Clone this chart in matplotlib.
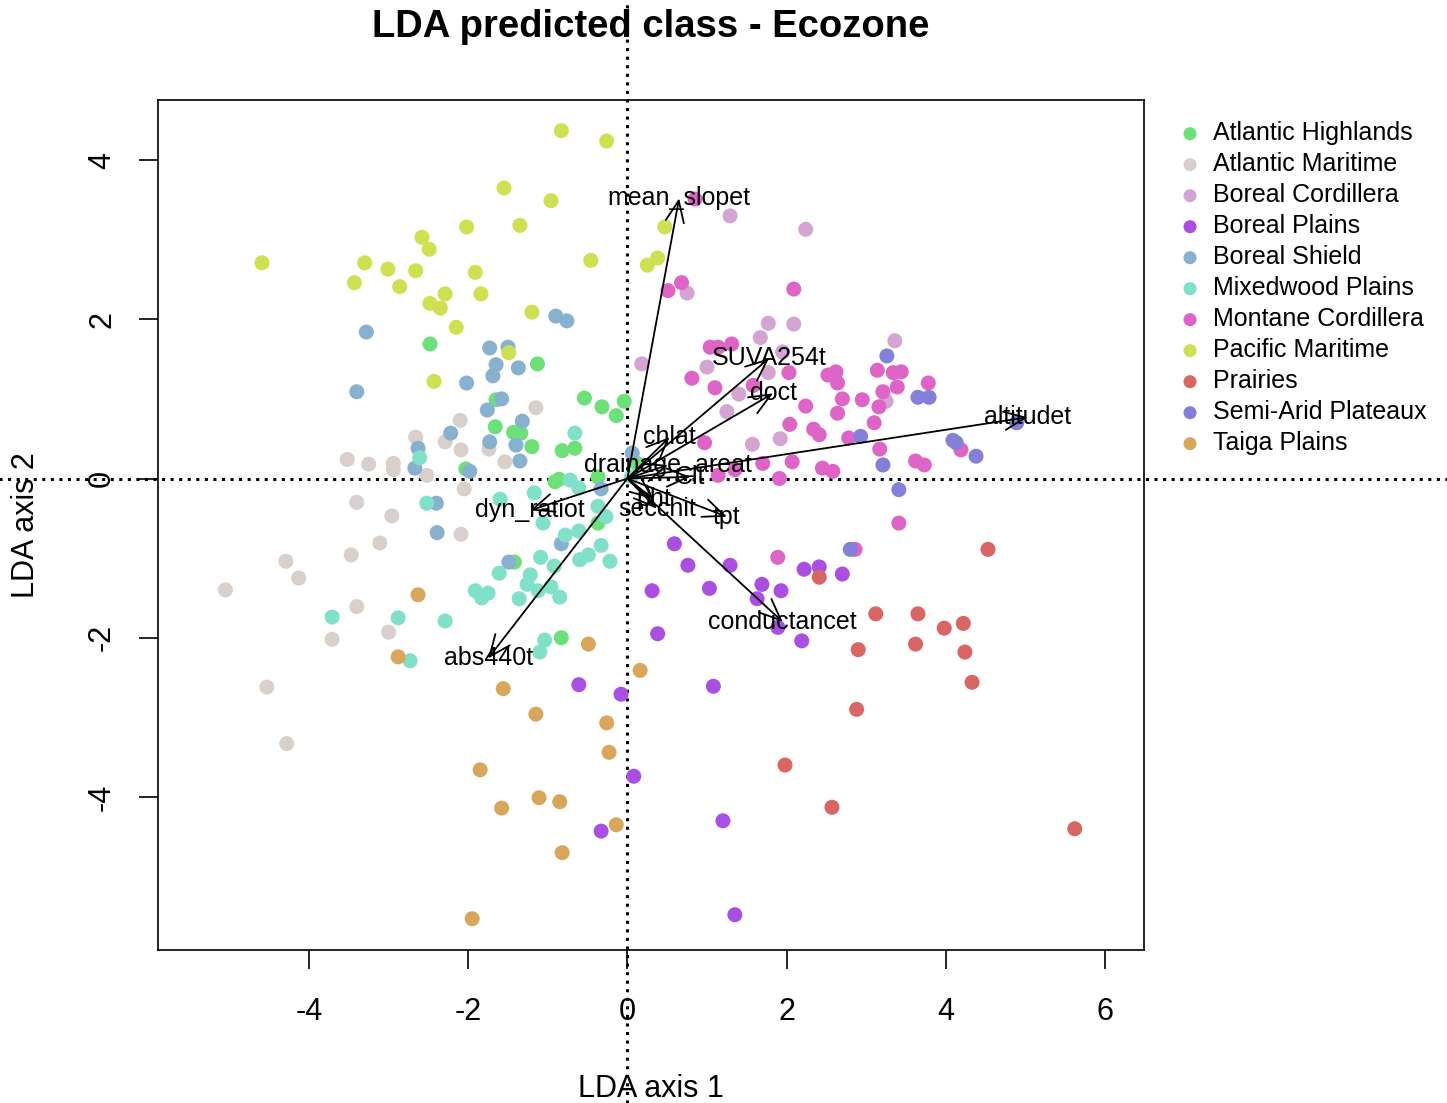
import numpy as np
import matplotlib
matplotlib.use('Agg')
import matplotlib.pyplot as plt

plt.rcParams['font.family'] = ['Liberation Sans', 'DejaVu Sans']
plt.rcParams['axes.unicode_minus'] = False

### LDA scores per ecozone (x = LD1, y = LD2)
ah_x = [-2.48, -1.13, -1.65, -0.54, -0.32, -0.14, -0.04, -1.66, -1.43, -1.34, -1.20,
        -0.82, -0.66, -2.03, -0.91, -0.86, -0.37, -1.42, -0.83, 0.12, -0.37]
ah_y = [1.69, 1.44, 0.99, 1.01, 0.90, 0.79, 0.97, 0.65, 0.58, 0.57, 0.40,
        0.35, 0.38, 0.12, -0.04, -0.01, -0.56, -1.05, -2.00, 0.19, 0.02]

am_x = [-1.15, -2.10, -2.66, -2.29, -2.09, -1.74, -1.54, -3.52, -3.25, -2.94, -2.94, -2.52, -3.40,
        -2.96, -2.05, -2.09, -3.11, -3.47, -4.29, -4.13, -5.05, -3.40, -3.71, -3.00, -4.53, -4.28]
am_y = [0.89, 0.73, 0.52, 0.46, 0.36, 0.37, 0.21, 0.24, 0.18, 0.19, 0.11, 0.04, -0.30,
        -0.47, -0.13, -0.70, -0.81, -0.96, -1.04, -1.25, -1.40, -1.61, -2.02, -1.93, -2.62, -3.33]

bc_x = [1.29, 2.24, 0.75, 1.77, 2.09, 1.67, 3.36, 1.95, 0.18, 1.00, 1.77, 1.40, 1.25, 1.57, 1.92, 3.25]
bc_y = [3.30, 3.13, 2.33, 1.95, 1.94, 1.77, 1.73, 1.59, 1.44, 1.40, 1.33, 1.06, 0.84, 0.43, 0.50, 0.97]

bp_x = [0.59, 0.76, 1.29, 0.31, 1.03, 1.69, 1.93, 1.63, 2.22, 2.41, 2.70,
        0.38, 1.89, 2.19, 1.08, -0.08, 0.08, 1.20, 1.35, -0.61, -0.33]
bp_y = [-0.82, -1.09, -1.09, -1.41, -1.38, -1.33, -1.41, -1.51, -1.14, -1.11, -1.20,
        -1.95, -1.87, -2.04, -2.61, -2.71, -3.74, -4.30, -5.48, -2.59, -4.43]

bs_x = [-0.90, -0.76, -3.28, -1.73, -1.50, -1.65, -1.69, -1.37, -2.02, -3.40, -1.58, -1.76, -1.32,
        -2.22, -1.73, -1.40, -1.35, -2.63, -2.67, -1.98, -2.40, -2.39, -0.83, -0.33, 0.06, -1.49]
bs_y = [2.04, 1.98, 1.84, 1.64, 1.65, 1.43, 1.29, 1.39, 1.20, 1.09, 1.00, 0.86, 0.72,
        0.57, 0.46, 0.42, 0.22, 0.38, 0.13, 0.09, -0.31, -0.68, -0.82, -0.13, 0.32, -1.05]

mp_x = [-0.66, -2.61, -2.52, -1.60, -1.17, -0.72, -0.61, -1.06, -0.37, -0.27, -0.78, -0.61,
        -1.09, -0.92, -0.60, -0.49, -0.33, -0.22, -1.61, -1.22, -1.26, -1.12, -0.96, -0.85,
        -1.91, -1.83, -1.75, -1.36, -3.71, -2.88, -2.29, -2.73, -1.04, -1.10, 0.05]
mp_y = [0.57, 0.26, -0.31, -0.26, -0.18, -0.02, -0.12, -0.56, -0.35, -0.48, -0.71, -0.66,
        -0.99, -1.10, -1.02, -0.96, -0.84, -1.04, -1.19, -1.21, -1.33, -1.41, -1.36, -1.49,
        -1.41, -1.50, -1.44, -1.51, -1.74, -1.75, -1.79, -2.29, -2.03, -2.18, 0.02]

mc_x = [0.85, 0.68, 0.51, 2.09, 1.04, 1.14, 1.31, 0.81, 2.03, 2.52, 2.62, 2.64, 3.14, 3.34,
        3.44, 3.78, 3.39, 1.10, 1.58, 3.21, 2.24, 2.70, 2.64, 2.95, 3.16, 3.10, 2.34, 2.41,
        2.04, 2.78, 3.17, 0.97, 2.07, 1.70, 2.45, 2.58, 1.91, 1.35, 1.14, 3.62, 3.73, 4.19,
        3.41, 2.86, 1.89]
mc_y = [3.51, 2.46, 2.36, 2.38, 1.65, 1.65, 1.69, 1.26, 1.33, 1.30, 1.34, 1.20, 1.36, 1.33,
        1.34, 1.20, 1.15, 1.14, 1.17, 1.09, 0.91, 1.00, 0.82, 0.99, 0.90, 0.70, 0.62, 0.55,
        0.68, 0.51, 0.37, 0.45, 0.21, 0.19, 0.13, 0.09, 0.00, 0.11, 0.04, 0.22, 0.17, 0.36,
        -0.56, -0.89, -0.99]

pm_x = [-0.83, -0.26, -4.59, -1.55, -0.96, -2.02, -1.35, -2.58, -2.49, -3.30, -3.01, -2.66, -1.91,
        -3.43, -2.86, -2.29, -1.84, -2.48, -2.35, -1.20, -2.15, -0.46, -1.49, -2.43, 0.47, 0.25, 0.38]
pm_y = [4.37, 4.24, 2.71, 3.65, 3.49, 3.16, 3.18, 3.03, 2.88, 2.71, 2.63, 2.61, 2.59,
        2.46, 2.41, 2.32, 2.32, 2.20, 2.14, 2.09, 1.90, 2.74, 1.58, 1.22, 3.16, 2.68, 2.77]

pr_x = [4.53, 2.41, 3.12, 3.65, 3.98, 4.22, 3.62, 4.24, 2.90, 4.33, 2.88, 1.98, 2.57, 5.62]
pr_y = [-0.89, -1.24, -1.70, -1.70, -1.88, -1.82, -2.08, -2.18, -2.15, -2.56, -2.90, -3.60, -4.13, -4.40]

sa_x = [3.26, 3.65, 3.79, 4.09, 4.13, 4.38, 4.89, 3.21, 3.41, 2.93, 2.80]
sa_y = [1.54, 1.02, 1.02, 0.48, 0.45, 0.28, 0.70, 0.17, -0.14, 0.53, -0.89]

tp_x = [-2.63, -0.49, -2.88, 0.16, -1.56, -1.15, -0.26, -0.23, -1.85, -1.58, -1.11, -0.85, -0.14, -0.82, -1.95]
tp_y = [-1.46, -2.08, -2.24, -2.41, -2.64, -2.96, -3.07, -3.44, -3.66, -4.14, -4.01, -4.06, -4.35, -4.70, -5.53]

ecozones = ['Atlantic Highlands', 'Atlantic Maritime', 'Boreal Cordillera', 'Boreal Plains',
            'Boreal Shield', 'Mixedwood Plains', 'Montane Cordillera', 'Pacific Maritime',
            'Prairies', 'Semi-Arid Plateaux', 'Taiga Plains']
colors = ['#6EE07A', '#D9D0CB', '#D4A5D3', '#AB4FE3', '#88B1D0', '#80E0C8',
          '#DE65C7', '#CFE052', '#D96565', '#8480D8', '#D9A75C']
xs = [ah_x, am_x, bc_x, bp_x, bs_x, mp_x, mc_x, pm_x, pr_x, sa_x, tp_x]
ys = [ah_y, am_y, bc_y, bp_y, bs_y, mp_y, mc_y, pm_y, pr_y, sa_y, tp_y]

### variable loadings (arrow tips)
var_names = ['mean_slopet', 'SUVA254t', 'doct', 'altitudet', 'chlat', 'drainage_areat',
             'Clt', 'tpt', 'secchit', 'pht', 'dyn_ratiot', 'abs440t', 'conductancet']
var_x = [0.65, 1.78, 1.83, 5.03, 0.53, 0.51, 0.79, 1.25, 0.37, 0.33, -1.22, -1.75, 1.95]
var_y = [3.52, 1.51, 1.07, 0.77, 0.52, 0.17, 0.02, -0.48, -0.38, -0.26, -0.40, -2.26, -1.80]

### figure
fig = plt.figure(figsize=(14.47, 11.03), dpi=100)
ax = fig.add_axes([158/1447, 153/1103, 986/1447, 850/1103])

for x, y, c, name in zip(xs, ys, colors, ecozones):
    ax.scatter(x, y, s=117, color=c, edgecolors='none', label=name, zorder=2)

for name, vx, vy in zip(var_names, var_x, var_y):
    ax.annotate('', xy=(vx, vy), xytext=(0, 0),
                arrowprops=dict(arrowstyle='->,head_length=0.7,head_width=0.3',
                                color='black', lw=1.3, mutation_scale=22,
                                shrinkA=0, shrinkB=0), zorder=3)
    ax.text(vx, vy, name, ha='center', va='center', fontsize=18, zorder=4)

# dotted zero lines reaching across the whole figure
ax.axhline(0, xmin=-0.161, xmax=1.31, color='black', lw=2.2,
           linestyle=(0, (1, 1.8)), clip_on=False, zorder=1)
ax.axvline(0, ymin=-0.18, ymax=1.12, color='black', lw=2.2,
           linestyle=(0, (1, 1.8)), clip_on=False, zorder=1)

ax.set_xlim(-5.897, 6.490)
ax.set_ylim(-5.923, 4.755)
ax.set_xticks([-4, -2, 0, 2, 4, 6])
ax.set_yticks([-4, -2, 0, 2, 4])
ax.tick_params(length=13.5, width=1.2, labelsize=22)
ax.tick_params(axis='x', pad=20)
ax.tick_params(axis='y', pad=16)
for lab in ax.get_yticklabels():
    lab.set_rotation(90)
    lab.set_va('center')
for sp in ax.spines.values():
    sp.set_linewidth(1.2)

ax.set_xlabel('LDA axis 1', fontsize=22, labelpad=34)
ax.set_ylabel('LDA axis 2', fontsize=22, labelpad=33)
fig.text(651/1447, 1 - 27/1103, 'LDA predicted class - Ecozone',
         ha='center', va='center', fontsize=27.5, fontweight='bold')

ax.legend(loc='upper left', bbox_to_anchor=(1.034, 0.975), frameon=False,
          fontsize=18, borderpad=0, borderaxespad=0, handlelength=1,
          handletextpad=0.42, labelspacing=0.28, markerscale=0.87)

fig.savefig('out.png', dpi=100)
